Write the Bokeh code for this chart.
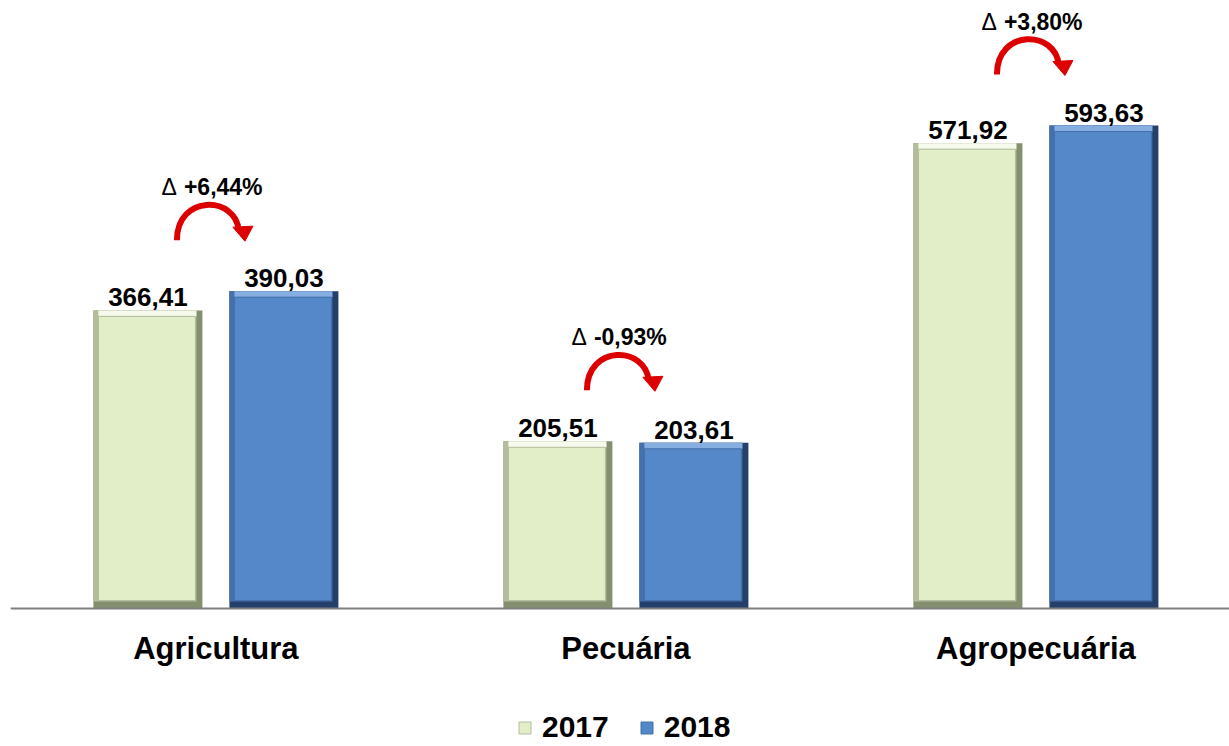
from bokeh.plotting import figure
from bokeh.models import Range1d, Legend, LegendItem, Span
from bokeh.core.properties import value
from bokeh.embed import file_html
from bokeh.resources import INLINE

categories = ["Agricultura", "Pecuária", "Agropecuária"]
years = ["2017", "2018"]
values_2017 = [366.41, 205.51, 571.92]
values_2018 = [390.03, 203.61, 593.63]
deltas = ["+6,44%", "-0,93%", "+3,80%"]

def fmt(v):
    return f"{v:.2f}".replace(".", ",")

FONT = "Liberation Sans"
W, H = 1229, 746
FW = 1219
BASE = 608            # screen y of the value axis zero line
PX_PER_X = 410.0
PX_PER_Y = 0.8136
x0 = -0.501
x1 = x0 + FW / PX_PER_X
y0 = -(H - BASE) / PX_PER_Y
y1 = BASE / PX_PER_Y

p = figure(width=W, height=H, output_backend="svg", toolbar_location=None,
           x_range=Range1d(x0, x1), y_range=Range1d(y0, y1),
           min_border_left=10, min_border_right=0, min_border_top=0,
           min_border_bottom=0, x_axis_location=None, y_axis_location=None)
p.background_fill_color = "white"
p.border_fill_color = "white"
p.outline_line_color = None
p.grid.visible = False

dx = 1.0 / PX_PER_X
dy = 1.0 / PX_PER_Y

xs = list(range(len(categories)))
bw = 109 * dx
off = 68 * dx

styles = {
    "2017": dict(dark="#848f70", mid="#b3bc9c", light="#f6faec", fill="#e2eec8"),
    "2018": dict(dark="#24406a", mid="#4470ab", light="#86aee0", fill="#5588c9"),
}

renderers = {}
for yr, vals, sgn in (("2017", values_2017, -1), ("2018", values_2018, 1)):
    st = styles[yr]
    cx = [x + sgn * off for x in xs]
    L = [c - bw / 2 for c in cx]
    R = [c + bw / 2 for c in cx]
    T = list(vals)
    B = [0] * len(vals)
    p.quad(left=L, right=R, top=T, bottom=B, fill_color=st["dark"], line_color=None)
    p.quad(left=L, right=[v - 6 * dx for v in R], top=T, bottom=[b + 7 * dy for b in B],
           fill_color=st["mid"], line_color=None)
    p.quad(left=[v + 5 * dx for v in L], right=[v - 6 * dx for v in R], top=T,
           bottom=[t - 6 * dy for t in T], fill_color=st["light"], line_color=None)
    renderers[yr] = p.quad(left=[v + 5 * dx for v in L], right=[v - 7 * dx for v in R],
                           top=[t - 6 * dy for t in T], bottom=[b + 8 * dy for b in B],
                           fill_color=st["fill"], line_color=st["mid"], line_width=1)
    p.text(x=cx, y=T, text=[fmt(v) for v in vals], text_align="center",
           text_baseline="bottom", y_offset=-4, text_font=value(FONT),
           text_font_style="bold", text_font_size="26px", text_color="black")

# zero line
p.add_layout(Span(location=0, dimension="width", line_color="#808080", line_width=2))

# category labels
p.text(x=xs, y=[0] * len(xs), text=categories, text_align="center", text_baseline="top",
       y_offset=22, text_font=value(FONT), text_font_style="bold",
       text_font_size="31px", text_color="black")

# delta labels and arrows
tops = [max(a, b) for a, b in zip(values_2017, values_2018)]
lab_y = [t + 104 * dy for t in tops]
p.text(x=xs, y=lab_y, text=deltas, text_align="left", text_baseline="middle",
       x_offset=-32, text_font=value(FONT), text_font_style="bold",
       text_font_size="23px", text_color="black")
p.text(x=xs, y=lab_y, text=["\u0394"] * len(xs), text_align="right", text_baseline="middle",
       x_offset=-39, text_font=value(FONT), text_font_style="normal",
       text_font_size="23px", text_color="black")

cxa = [x - 8 * dx for x in xs]
p.bezier(x0=[c - 31 * dx for c in cxa], y0=[y - 53 * dy for y in lab_y],
         x1=[c + 31 * dx for c in cxa], y1=[y - 44 * dy for y in lab_y],
         cx0=[c - 31 * dx for c in cxa], cy0=[y - 7 * dy for y in lab_y],
         cx1=[c + 28 * dx for c in cxa], cy1=[y - 8 * dy for y in lab_y],
         line_color="#dd0000", line_width=6)
head_xs = [[c + 37 * dx, c + 25 * dx, c + 45 * dx] for c in cxa]
head_ys = [[y - 54 * dy, y - 40 * dy, y - 39 * dy] for y in lab_y]
p.patches(xs=head_xs, ys=head_ys, fill_color="#dd0000", line_color="#dd0000", line_width=1)

legend = Legend(items=[LegendItem(label=y, renderers=[renderers[y]]) for y in years],
                orientation="horizontal", location=(507, 2),
                label_text_font=FONT, label_text_font_style="bold",
                label_text_font_size="30px", label_text_color="black",
                glyph_width=15, glyph_height=15, label_standoff=10, spacing=30,
                border_line_color=None, background_fill_alpha=0,
                padding=0, margin=0)
p.add_layout(legend, "center")

open("out.html", "w").write(file_html(p, INLINE))
